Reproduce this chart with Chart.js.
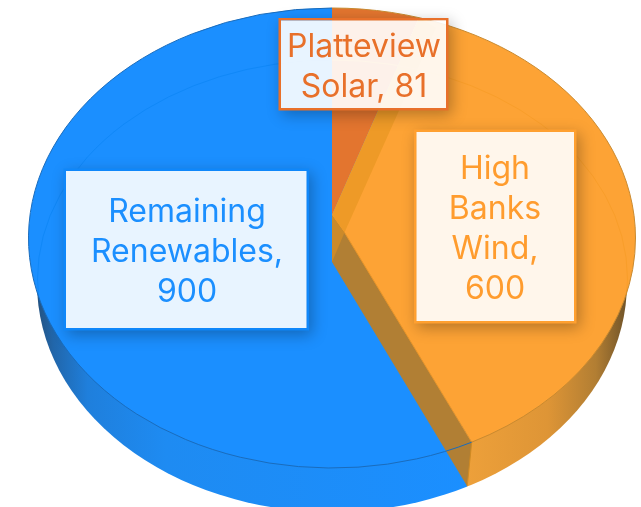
<!DOCTYPE html>
<html>
<head>
<meta charset="utf-8">
<style>html,body{margin:0;padding:0;background:#fff}canvas{display:block}</style>
<script src="https://cdn.jsdelivr.net/npm/chart.js@4/dist/chart.umd.min.js"></script>
</head>
<body>
<canvas id="c" width="641" height="507"></canvas>
<script>
const categories = ["Platteview Solar", "High Banks Wind", "Remaining Renewables"];
const values = [81, 600, 900];
const sliceColors = ["#E3752F", "#FDA335", "#1B8FFF"];
const labelLines = [["Platteview", "Solar, 81"], ["High", "Banks", "Wind,", "600"], ["Remaining", "Renewables,", "900"]];
const labelInk = ["#E8702A", "#FF9C2E", "#1B8FFF"];
const labelEdge = ["#E8702A", "#FFA030", "#0F87FA"];
const labelBoxes = [
  {l:281, t:20.5, r:446, b:108, cx:364, base:57},
  {l:416.5, t:132, r:574, b:321, cx:495, base:179},
  {l:66, t:171, r:306.5, b:328, cx:187, base:222}
];
const top3d = {cx:332, cy:238, rx:303.5, ry:230};
const low3d = {cx:332, cy:283, rx:295, ry:229};
const ring = {cx:332.5, cy:279, rx:295, ry:219};
const tilt = 0.756;

function ellipsePath(ctx, e){ ctx.beginPath(); ctx.ellipse(e.cx, e.cy, e.rx, e.ry, 0, 0, Math.PI*2); }
function rim(arc, angle){
  const dx = Math.cos(angle), dy = tilt*Math.sin(angle);
  const ax = arc.x, ay = arc.y;
  const px = (ax-top3d.cx)/top3d.rx, py = (ay-top3d.cy)/top3d.ry;
  const qx = dx/top3d.rx, qy = dy/top3d.ry;
  const A = qx*qx+qy*qy, B = 2*(px*qx+py*qy), C = px*px+py*py-1;
  const t = (-B+Math.sqrt(B*B-4*A*C))/(2*A);
  return {x:ax+dx*t, y:ay+dy*t};
}
function rimAngle(p){ return Math.atan2((p.y-top3d.cy)/top3d.ry,(p.x-top3d.cx)/top3d.rx); }
function poly(ctx, pts, fill){
  ctx.beginPath(); pts.forEach((p,i)=> i?ctx.lineTo(p.x,p.y):ctx.moveTo(p.x,p.y)); ctx.closePath();
  ctx.fillStyle = fill; ctx.fill();
}

const pie3d = {
  id:'pie3d',
  beforeDatasetsDraw(chart){
    const ctx = chart.ctx, arcs = chart.getDatasetMeta(0).data, a = arcs[1];
    const d = rim(a, a.endAngle), splitX = d.x-4.5;
    ctx.save();
    ctx.beginPath(); ctx.rect(0,0,splitX,507); ctx.clip();
    let g = ctx.createLinearGradient(36,0,splitX,0);
    g.addColorStop(0,'#24517E'); g.addColorStop(0.04,'#2166AA'); g.addColorStop(0.12,'#1F7FDC'); g.addColorStop(0.3,'#1E8BF2'); g.addColorStop(1,'#1B8FFF');
    ctx.fillStyle = g; ellipsePath(ctx, low3d); ctx.fill();
    ctx.restore();
    ctx.save();
    ctx.beginPath(); ctx.rect(splitX,0,641-splitX,507); ctx.clip();
    g = ctx.createLinearGradient(splitX,0,628,0);
    g.addColorStop(0,'#EDA03A'); g.addColorStop(0.5,'#DE9536'); g.addColorStop(0.8,'#B27E33'); g.addColorStop(1,'#6E5228');
    ctx.fillStyle = g; ellipsePath(ctx, low3d); ctx.fill();
    ctx.restore();
    ctx.save();
    ellipsePath(ctx, top3d); ctx.clip();
    ctx.translate(a.x, a.y); ctx.scale(1, tilt); ctx.translate(-a.x, -a.y);
  },
  afterDatasetsDraw(chart){
    const ctx = chart.ctx, arcs = chart.getDatasetMeta(0).data;
    ctx.restore();
    const red = arcs[0], or = arcs[1];
    const A = {x:or.x, y:or.y};
    const redEnd = rim(red, red.endAngle), D = rim(or, or.endAngle);
    const B = {x:A.x, y:A.y+47}, C = {x:D.x-4.5, y:D.y+44};
    const F = {x:A.x+12.5, y:A.y+17.5};
    poly(ctx,[A,F,D,C,B],'#B17F34');
    poly(ctx,[A,F,B],'#CC8A2A');
    ctx.save(); ellipsePath(ctx, top3d); ctx.clip();
    poly(ctx,[A,F,{x:redEnd.x+17,y:redEnd.y+10},redEnd],'#EE9A27');
    ctx.restore();
    ctx.lineWidth=1;
    ctx.strokeStyle='#D08A22';
    ctx.beginPath(); ctx.moveTo(D.x,D.y); ctx.lineTo(C.x,C.y); ctx.stroke();
    ctx.strokeStyle='#E8952A';
    ctx.beginPath(); ctx.moveTo(F.x,F.y); ctx.lineTo(D.x,D.y); ctx.stroke();
    ctx.save(); ctx.lineWidth=1;
    ctx.beginPath(); ctx.rect(0,0,A.x,295); ctx.clip();
    ctx.strokeStyle='#1088F8'; ellipsePath(ctx, ring); ctx.stroke();
    ctx.restore();
    ctx.save(); ctx.lineWidth=1;
    ctx.beginPath(); ctx.rect(A.x,0,320,295); ctx.clip();
    ctx.strokeStyle='#F99E2A'; ellipsePath(ctx, ring); ctx.stroke();
    ctx.restore();
    const dAng = rimAngle(D);
    const up = -Math.PI/2;
    ctx.lineWidth=1;
    ctx.strokeStyle='#1A6CBC';
    ctx.beginPath(); ctx.ellipse(top3d.cx,top3d.cy,top3d.rx,top3d.ry,0,dAng,up+Math.PI*2); ctx.stroke();
    ctx.strokeStyle='#C98A30';
    ctx.beginPath(); ctx.ellipse(top3d.cx,top3d.cy,top3d.rx,top3d.ry,0,up,dAng); ctx.stroke();
    labelBoxes.forEach((b,i)=>{
      const w=b.r-b.l, h=b.b-b.t;
      ctx.save();
      ctx.beginPath(); ctx.rect(0,0,641,507); ctx.rect(b.l,b.t,w,h); ctx.clip('evenodd');
      ctx.shadowColor='rgba(0,0,0,0.28)'; ctx.shadowBlur=14; ctx.shadowOffsetX=3; ctx.shadowOffsetY=4;
      ctx.fillStyle=labelEdge[i];
      ctx.fillRect(b.l-2.5,b.t-2.5,w+5,h+5);
      ctx.restore();
      ctx.save();
      ctx.fillStyle='rgba(255,255,255,0.9)';
      ctx.fillRect(b.l,b.t,w,h);
      ctx.fillStyle=labelInk[i];
      ctx.font='32px Inter, sans-serif';
      ctx.textAlign='center'; ctx.textBaseline='alphabetic';
      labelLines[i].forEach((line,j)=> ctx.fillText(line,b.cx,b.base+j*40));
      ctx.restore();
    });
  }
};

new Chart(document.getElementById('c'), {
  type:'pie',
  data:{labels:categories, datasets:[{data:values, backgroundColor:sliceColors, borderWidth:0, clip:false}]},
  options:{
    responsive:false, animation:false, events:[], devicePixelRatio:1,
    radius:360,
    layout:{padding:{left:23, right:0, top:0, bottom:77}},
    plugins:{legend:{display:false}, tooltip:{enabled:false}, title:{display:false}}
  },
  plugins:[pie3d]
});
</script>
</body>
</html>
